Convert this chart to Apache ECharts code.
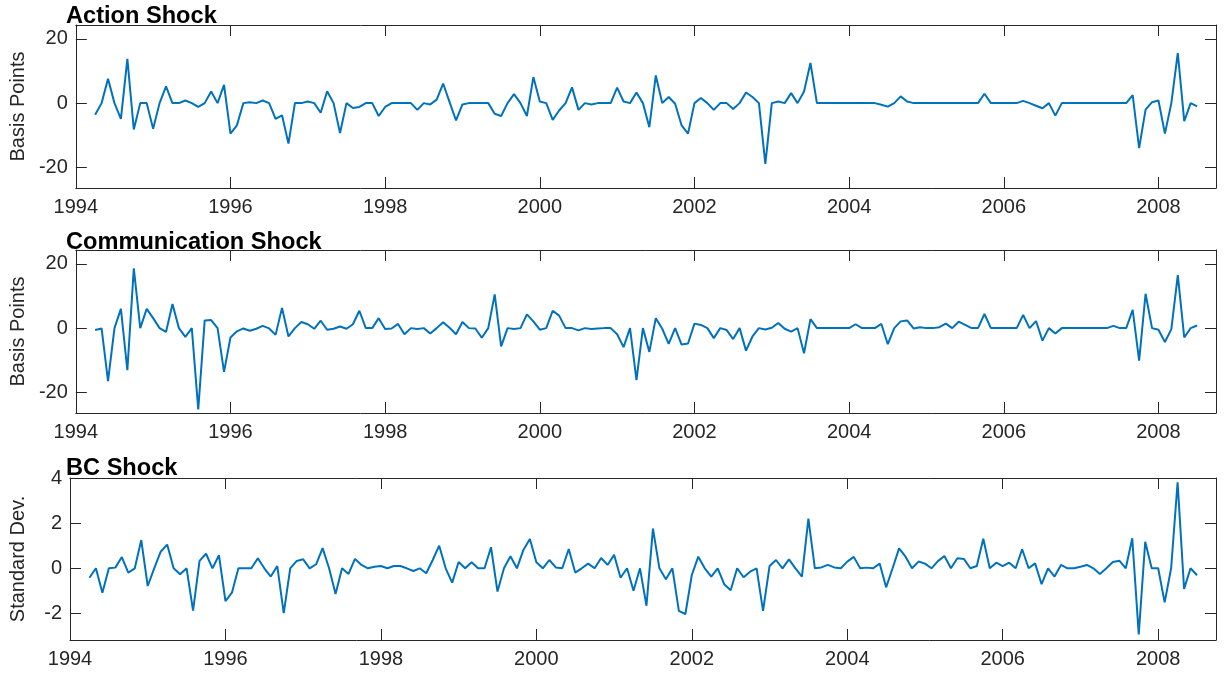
<!DOCTYPE html>
<html>
<head>
<meta charset="utf-8">
<script src="https://cdn.jsdelivr.net/npm/echarts@6/dist/echarts.min.js"></script>
<style>
  html, body { margin: 0; padding: 0; background: #ffffff; }
  #chart { width: 1225px; height: 674px; }
</style>
</head>
<body>
<div id="chart"></div>
<script>
// Monthly series, first observation April 1994
const startYear = 1994;
const startMonth = 4;

const actionShock = [
  -3.6, 0, 7.6, 0, -4.9, 13.8, -8.2, 0, 0, -8.0,
  0, 5.2, 0, 0, 0.8, 0, -1.2, 0, 3.6, 0,
  5.7, -9.5, -6.9, 0, 0.3, 0, 0.8, 0, -4.9, -3.8,
  -12.6, 0, 0, 0.5, 0, -3.0, 3.7, 0, -9.3, 0,
  -1.5, -1.2, 0, 0, -4.0, -1.2, 0, 0, 0, 0,
  -2.1, 0, -0.4, 1.1, 6.1, 0.3, -5.4, -0.4, 0, 0,
  0, 0, -3.3, -4.0, 0, 2.8, 0, -4.0, 8.1, 0.5,
  0, -5.2, -2.3, 0, 4.9, -2.1, 0, -0.4, 0, 0,
  0, 4.8, 0.5, 0, 3.3, 0, -7.5, 8.6, 0, 1.9,
  -0.2, -6.9, -9.5, 0, 1.6, 0, -2.1, 0, 0, -1.8,
  0, 3.3, 1.9, 0, -18.9, 0, 0.5, 0, 3.1, 0,
  3.6, 12.5, 0, 0, 0, 0, 0, 0, 0, 0,
  0, 0, -0.5, -1.1, 0, 2.1, 0.5, 0, 0, 0,
  0, 0, 0, 0, 0, 0, 0, 0, 2.9, 0,
  0, 0, 0, 0, 0.7, 0, -0.8, -1.6, 0, -3.9,
  0, 0, 0, 0, 0, 0, 0, 0, 0, 0,
  0, 2.5, -14.0, -2.0, 0.3, 0.8, -9.5, 0, 15.6, -5.6,
  0, -1.0
];

const communicationShock = [
  -0.6, -0.1, -16.5, 0, 6.0, -13.1, 18.6, 0, 6.0, 3.1,
  0, -1.2, 7.5, 0, -2.7, 0, -25.3, 2.4, 2.5, 0,
  -13.6, -2.9, -1.0, -0.1, -0.8, -0.2, 0.7, -0.1, -2.1, 6.3,
  -2.6, 0, 1.9, 1.2, -0.2, 2.3, -0.5, -0.2, 0.5, -0.2,
  1.2, 5.4, 0, 0, 3.1, -0.3, -0.1, 1.3, -1.9, 0,
  -0.3, 0, -1.7, 0, 1.8, 0.1, -1.9, 1.9, 0, -0.1,
  -3.0, 0, 10.5, -5.7, 0, -0.3, 0, 4.3, 2.1, -0.5,
  0, 5.4, 3.9, 0, 0, -0.7, 0, -0.3, -0.1, 0,
  0, -1.9, -5.9, 0, -16.2, 0, -7.4, 3.1, -0.2, -4.9,
  0, -5.1, -4.8, 1.4, 1.0, 0, -3.1, 0, -0.6, -3.4,
  0, -7.0, -2.6, 0, -0.4, 0.1, 1.6, -0.2, -1.1, 0,
  -7.8, 2.8, 0, 0, 0, 0, 0, 0, 1.2, 0,
  0, 0, 1.3, -5.0, 0, 2.1, 2.4, -0.1, 0.3, 0,
  0, 0.3, 1.4, 0, 2.0, 1.0, 0, 0, 4.4, 0,
  0, 0, 0, 0, 4.1, 0, 2.2, -3.9, 0, -1.7,
  0, 0, 0, 0, 0, 0, 0, 0, 0.7, 0,
  0, 5.7, -10.1, 10.7, 0, -0.5, -4.3, -0.3, 16.5, -2.9,
  0, 0.8
];

const bcShock = [
  -0.42, 0, -1.09, 0, 0.03, 0.5, -0.19, 0, 1.26, -0.79,
  0, 0.74, 1.06, 0, -0.27, 0, -1.89, 0.33, 0.65, 0,
  0.58, -1.46, -1.09, 0, 0, 0, 0.45, 0, -0.37, 0.1,
  -2.0, 0, 0.33, 0.4, 0, 0.18, 0.9, 0, -1.15, 0,
  -0.25, 0.42, 0.15, 0, 0.07, 0.1, 0, 0.1, 0.1, 0,
  -0.12, 0, -0.22, 0.37, 1.01, 0, -0.64, 0.28, 0, 0.27,
  0, 0, 0.94, -1.04, 0, 0.54, 0, 0.82, 1.31, 0.27,
  0, 0.37, 0.04, 0, 0.86, -0.19, 0, 0.21, 0, 0.46,
  0.15, 0.6, -0.42, 0, -1.0, 0, -1.67, 1.77, 0, -0.49,
  0, -1.9, -2.05, -0.3, 0.52, 0, -0.37, 0, -0.71, -0.98,
  0, -0.4, -0.15, 0, -1.9, 0.1, 0.37, 0, 0.4, 0,
  -0.37, 2.22, 0, 0.04, 0.15, 0.04, 0, 0.3, 0.51, 0,
  0.03, 0, 0.21, -0.85, 0, 0.89, 0.52, 0, 0.3, 0.21,
  0, 0.32, 0.55, 0, 0.45, 0.42, 0, 0.1, 1.32, 0,
  0.25, 0.1, 0.25, 0, 0.85, 0, 0.22, -0.71, 0, -0.37,
  0.15, 0, 0, 0.07, 0.15, 0, -0.25, 0, 0.28, 0.34,
  0, 1.34, -2.95, 1.18, 0, 0, -1.52, 0, 3.84, -0.92,
  0, -0.31
];

const panelTitles = ['Action Shock', 'Communication Shock', 'BC Shock'];
const yAxisNames = ['Basis Points', 'Basis Points', 'Standard Dev.'];
const xTickYears = [1994, 1996, 1998, 2000, 2002, 2004, 2006, 2008];
const yTicksBasisPoints = [-20, 0, 20];
const yTicksStdDev = [-2, 0, 2, 4];

// ---- layout & styling ----
const FONT = "'Liberation Sans', Arial, Helvetica, sans-serif";
const AXIS_COLOR = '#262626';
const LINE_COLOR = '#0072BD';
const X_MIN = 1994, X_MAX = 2008.744;

const panels = [
  { values: actionShock,        top: 25,  height: 163, yMin: -26.4, yMax: 24.3, yTicks: yTicksBasisPoints, titleTop: 4 },
  { values: communicationShock, top: 250, height: 163, yMin: -26.4, yMax: 24.3, yTicks: yTicksBasisPoints, titleTop: 230.5 },
  { values: bcShock,            top: 478, height: 162, yMin: -3.2,  yMax: 4.03, yTicks: yTicksStdDev,      titleTop: 456.5 }
];

function monthPosition(i) {
  return startYear + (startMonth - 1 + i) / 12;
}

const grid = [], xAxis = [], yAxis = [], series = [], title = [];
const axisLine = { show: true, onZero: false, lineStyle: { color: AXIS_COLOR, width: 1 } };
const tickStyle = { color: AXIS_COLOR, width: 1 };

panels.forEach((p, k) => {
  grid.push({ left: 66, width: 1150, top: p.top, height: p.height, containLabel: false });

  // bottom axis with year labels
  xAxis.push({
    type: 'value', gridIndex: k, position: 'bottom', min: X_MIN, max: X_MAX,
    axisLine: axisLine,
    axisTick: { show: true, inside: true, length: 11, customValues: xTickYears, lineStyle: tickStyle },
    axisLabel: { show: true, customValues: xTickYears, color: AXIS_COLOR, fontSize: 20, fontFamily: FONT, margin: 9,
                 formatter: v => String(Math.round(v)) },
    splitLine: { show: false }
  });
  // top edge of the box
  xAxis.push({
    type: 'value', gridIndex: k, position: 'top', min: X_MIN, max: X_MAX,
    axisLine: axisLine,
    axisTick: { show: true, inside: true, length: 11, customValues: xTickYears, lineStyle: tickStyle },
    axisLabel: { show: false },
    splitLine: { show: false }
  });

  // left axis with labels and name
  yAxis.push({
    type: 'value', gridIndex: k, position: 'left', min: p.yMin, max: p.yMax,
    name: yAxisNames[k], nameLocation: 'middle', nameGap: 42,
    nameTextStyle: { color: AXIS_COLOR, fontSize: 20, fontFamily: FONT },
    axisLine: axisLine,
    axisTick: { show: true, inside: true, length: 11, customValues: p.yTicks, lineStyle: tickStyle },
    axisLabel: { show: true, customValues: p.yTicks, color: AXIS_COLOR, fontSize: 20, fontFamily: FONT, margin: 8 },
    splitLine: { show: false }
  });
  // right edge of the box
  yAxis.push({
    type: 'value', gridIndex: k, position: 'right', min: p.yMin, max: p.yMax,
    axisLine: axisLine,
    axisTick: { show: true, inside: true, length: 11, customValues: p.yTicks, lineStyle: tickStyle },
    axisLabel: { show: false },
    splitLine: { show: false }
  });

  series.push({
    type: 'line', xAxisIndex: 2 * k, yAxisIndex: 2 * k,
    data: p.values.map((v, i) => [monthPosition(i), v]),
    showSymbol: false, symbol: 'none',
    lineStyle: { color: LINE_COLOR, width: 2 },
    itemStyle: { color: LINE_COLOR },
    silent: true, z: 3
  });

  title.push({
    text: panelTitles[k], left: 66, top: p.titleTop, padding: 0,
    textStyle: { color: '#000000', fontSize: 23.6, fontWeight: 'bold', fontFamily: FONT }
  });
});

const chart = echarts.init(document.getElementById('chart'), null, { renderer: 'canvas' });
chart.setOption({
  backgroundColor: '#ffffff',
  animation: false,
  title: title,
  grid: grid,
  xAxis: xAxis,
  yAxis: yAxis,
  series: series
});
</script>
</body>
</html>
